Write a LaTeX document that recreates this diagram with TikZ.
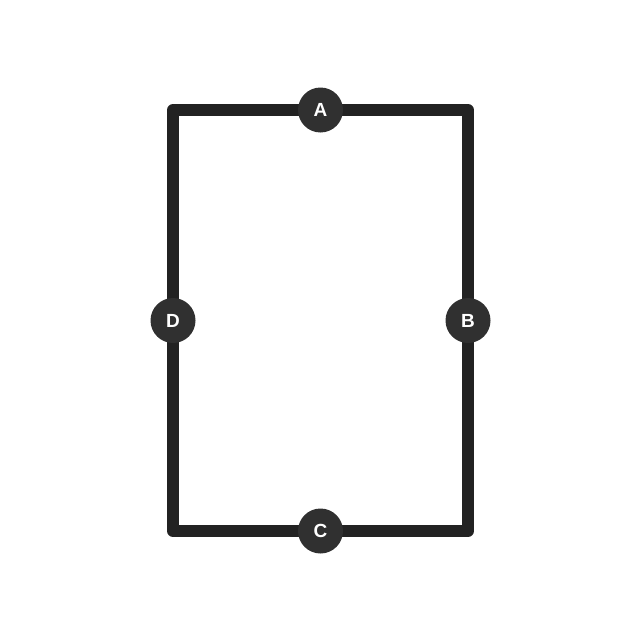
\documentclass[tikz,border=0pt]{standalone}
\usepackage{fontspec}
\setmainfont{Liberation Sans}
\definecolor{linec}{HTML}{222222}
\definecolor{dotc}{HTML}{303030}
\begin{document}
\begin{tikzpicture}[x=1pt,y=-1pt,
  edge/.style={draw=linec,line width=12pt,line join=round},
  port/.style={circle,fill=dotc,minimum size=45pt,inner sep=0pt,text=white,font=\fontsize{19}{19}\selectfont\bfseries}]
\useasboundingbox (0,0) rectangle (642,642);
\coordinate (tl) at (173,110);
\coordinate (tr) at (468,110);
\coordinate (br) at (468,531);
\coordinate (bl) at (173,531);
\draw[edge] (tl) -- (tr) -- (br) -- (bl) -- cycle;
\node[port] (A) at (320.5,110) {A};
\node[port] (B) at (468,320.5) {B};
\node[port] (C) at (320.5,531) {C};
\node[port] (D) at (173,320.5) {D};
\end{tikzpicture}
\end{document}
